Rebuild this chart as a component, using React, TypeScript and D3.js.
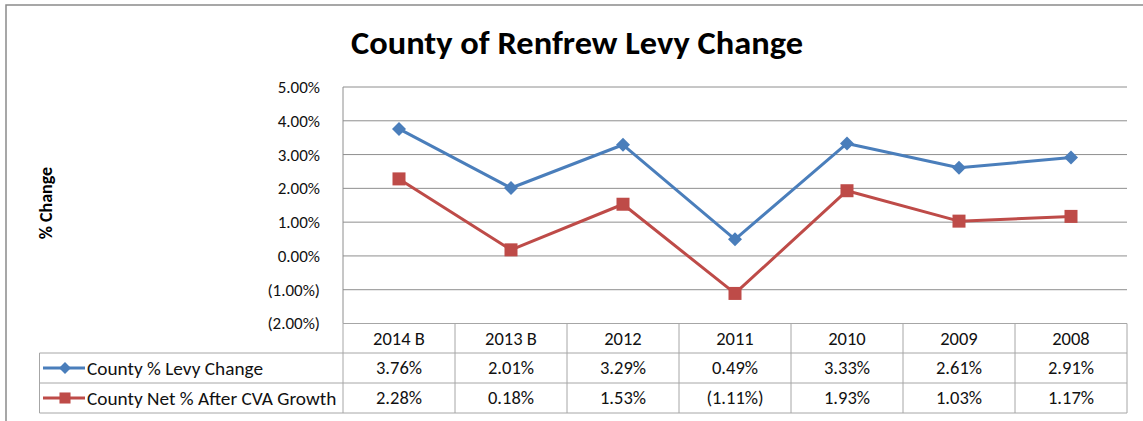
import React from "react";
import * as d3 from "d3";

const categories = ["2014 B", "2013 B", "2012", "2011", "2010", "2009", "2008"];
const levyChange = [3.76, 2.01, 3.29, 0.49, 3.33, 2.61, 2.91];
const netAfterCVA = [2.28, 0.18, 1.53, -1.11, 1.93, 1.03, 1.17];
const yTicks = [5, 4, 3, 2, 1, 0, -1, -2];
const seriesNames = ["County % Levy Change", "County Net % After CVA Growth"];
const seriesColors = ["#4A7EBB", "#BE4B48"];

const FONT = "Carlito, Lato, 'Open Sans', sans-serif";

const fmt = (v: number) => {
  const s = Math.abs(v).toFixed(2) + "%";
  return v < 0 ? `(${s})` : s;
};

export default function App() {
  const W = 1143, H = 421;
  const plotL = 343, plotR = 1127, plotT = 87, plotB = 323.5;
  const legendL = 39.5;
  const x = d3.scaleBand<string>().domain(categories).range([plotL, plotR]);
  const y = d3.scaleLinear().domain([-2, 5]).range([plotB, plotT]);
  const line = d3
    .line<number>()
    .x((_, i) => (x(categories[i]) as number) + x.bandwidth() / 2)
    .y((d) => y(d));
  const series = [levyChange, netAfterCVA];
  const rowTops = [plotB, plotB + 29.5, plotB + 59.5, plotB + 89.5];
  const grid = "#8e8e8e";
  const tbl = "#a6a6a6";
  const txt = "#111";

  const marker = (k: number, cx: number, cy: number, key: string, s = 1) =>
    k === 0 ? (
      <path
        key={key}
        d={`M${cx},${cy - 7 * s}L${cx + 7 * s},${cy}L${cx},${cy + 7 * s}L${cx - 7 * s},${cy}Z`}
        fill={seriesColors[0]}
      />
    ) : (
      <rect key={key} x={cx - 6.5 * s} y={cy - 6.5 * s} width={13 * s} height={13 * s} fill={seriesColors[1]} />
    );

  return (
    <div style={{ position: "fixed", left: 0, top: 0 }}>
      <svg width={W} height={H} style={{ display: "block", background: "#fff" }}>
        <rect x={6} y={5} width={1200} height={500} fill="none" stroke="#8a8a8a" strokeWidth={1.5} />
        <text
          x={577}
          y={54}
          textAnchor="middle"
          fontFamily={FONT}
          fontWeight="bold"
          fontSize={32}
          fill="#000"
          textLength={452}
          lengthAdjust="spacingAndGlyphs"
        >
          County of Renfrew Levy Change
        </text>
        <text
          transform={`translate(52,203) rotate(-90)`}
          textAnchor="middle"
          fontFamily={FONT}
          fontWeight="bold"
          fontSize={18}
          fill="#000"
        >
          % Change
        </text>
        {yTicks.map((t) => (
          <line key={t} x1={plotL} x2={plotR} y1={y(t)} y2={y(t)} stroke={grid} strokeWidth={1} />
        ))}
        <line x1={plotL} x2={plotL} y1={plotT} y2={plotB} stroke={grid} strokeWidth={1} />
        {yTicks.map((t) => (
          <text
            key={"l" + t}
            x={320}
            y={y(t)}
            dy="0.35em"
            textAnchor="end"
            fontFamily={FONT}
            fontSize={17}
            fill={txt}
          >
            {fmt(t)}
          </text>
        ))}
        <g stroke={tbl} strokeWidth={1} fill="none">
          <line x1={plotL} x2={plotR} y1={rowTops[0]} y2={rowTops[0]} />
          {rowTops.slice(1).map((r, i) => (
            <line key={i} x1={legendL} x2={plotR} y1={r} y2={r} />
          ))}
          <line x1={legendL} x2={legendL} y1={rowTops[1]} y2={rowTops[3]} />
          {categories.map((c) => (
            <line key={c} x1={x(c)} x2={x(c)} y1={rowTops[0]} y2={rowTops[3]} />
          ))}
          <line x1={plotR} x2={plotR} y1={rowTops[0]} y2={rowTops[3]} />
        </g>
        {categories.map((c) => (
          <text
            key={"h" + c}
            x={(x(c) as number) + x.bandwidth() / 2}
            y={(rowTops[0] + rowTops[1]) / 2}
            dy="0.35em"
            textAnchor="middle"
            fontFamily={FONT}
            fontSize={18.5}
            fill={txt}
          >
            {c}
          </text>
        ))}
        {series.map((s, k) =>
          s.map((v, i) => (
            <text
              key={`v${k}-${i}`}
              x={(x(categories[i]) as number) + x.bandwidth() / 2}
              y={(rowTops[k + 1] + rowTops[k + 2]) / 2}
              dy="0.35em"
              textAnchor="middle"
              fontFamily={FONT}
              fontSize={18.5}
              fill={txt}
            >
              {fmt(v)}
            </text>
          ))
        )}
        {seriesNames.map((n, k) => {
          const cy = (rowTops[k + 1] + rowTops[k + 2]) / 2;
          return (
            <g key={n}>
              <line x1={43} x2={85} y1={cy} y2={cy} stroke={seriesColors[k]} strokeWidth={3} />
              {marker(k, 65, cy, "lm" + k, 0.85)}
              <text x={87} y={cy} dy="0.35em" fontFamily={FONT} fontSize={19.3} fill={txt}>
                {n}
              </text>
            </g>
          );
        })}
        {series.map((s, k) => (
          <g key={"s" + k}>
            <path d={line(s) as string} fill="none" stroke={seriesColors[k]} strokeWidth={3} strokeLinejoin="round" />
            {s.map((v, i) =>
              marker(k, (x(categories[i]) as number) + x.bandwidth() / 2, y(v), `m${k}-${i}`)
            )}
          </g>
        ))}
      </svg>
    </div>
  );
}
